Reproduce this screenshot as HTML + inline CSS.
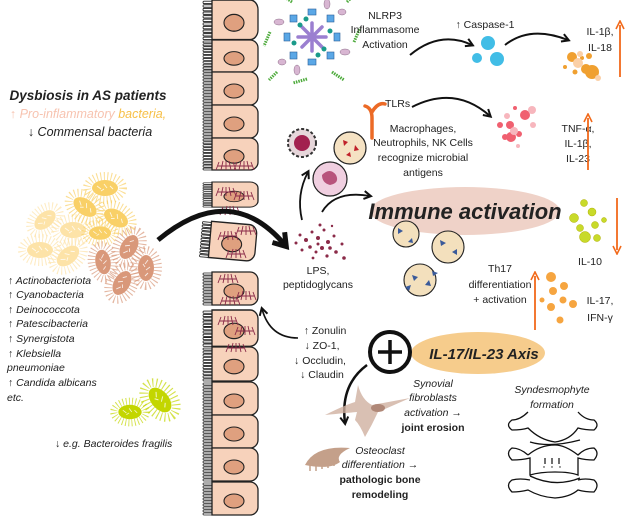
<!DOCTYPE html>
<html><head><meta charset="utf-8"><style>
html,body{margin:0;padding:0;background:#fff}
svg{display:block}
text{font-family:"Liberation Sans",sans-serif;fill:#222}
.t{font-size:10.5px}
.it{font-style:italic}
.b{font-weight:bold}
</style></head><body>
<svg width="635" height="517" viewBox="0 0 635 517" xmlns="http://www.w3.org/2000/svg">
<defs>
<marker id="ah" markerWidth="10" markerHeight="10" refX="7" refY="5" orient="auto" markerUnits="userSpaceOnUse"><path d="M1,1 L8,5 L1,9" fill="none" stroke="#111" stroke-width="2"/></marker>
<marker id="ahb" markerWidth="20" markerHeight="20" refX="12" refY="10" orient="auto" markerUnits="userSpaceOnUse"><path d="M2,2 L14,10 L2,18" fill="none" stroke="#111" stroke-width="5"/></marker>
<marker id="ao" markerWidth="10" markerHeight="10" refX="5" refY="5" orient="auto" markerUnits="userSpaceOnUse"><path d="M1,9 L5,1 L9,9" fill="none" stroke="#f26a1b" stroke-width="1.6" transform="rotate(90 5 5)"/></marker>
<g id="bac"><ellipse cx="0" cy="0" rx="18" ry="12" fill="none" stroke="currentColor" stroke-width="8" stroke-dasharray="1 2.5" opacity=".7"/><ellipse cx="0" cy="0" rx="13" ry="8" fill="currentColor"/><path d="M-8,-2 l4,3 M-1,-4 l3,4 M5,-2 l3,3 M-4,3 l3,-2" stroke="#fff" stroke-width=".9" opacity=".8"/></g>
<g id="cell"><path d="M212,0 h38 a8,8 0 0 1 8,8 v17 a8,8 0 0 1 -8,8 h-38 z" fill="#f7d2bb" stroke="#222" stroke-width="1.3"/><ellipse cx="234" cy="19" rx="10" ry="7" fill="#dfa07f" stroke="#222" stroke-width="1.1"/><path d="M212,1 h-8 a1,1 0 0 0 0,2 h8 v1 h-8 a1,1 0 0 0 0,2 h8 v1 h-8 a1,1 0 0 0 0,2 h8 v1 h-8 a1,1 0 0 0 0,2 h8 v1 h-8 a1,1 0 0 0 0,2 h8 v1 h-8 a1,1 0 0 0 0,2 h8 v1 h-8 a1,1 0 0 0 0,2 h8 v1 h-8 a1,1 0 0 0 0,2 h8 v1 h-8 a1,1 0 0 0 0,2 h8 v1 h-8 a1,1 0 0 0 0,2 h8 v1 h-8 a1,1 0 0 0 0,2 h8" fill="none" stroke="#222" stroke-width=".8"/></g>
<g id="lp"><path d="M-10,0 l3,-8 M-5,0 l2,-9 M0,0 l0,-9 M5,0 l-2,-9 M10,0 l-3,-8 M-8,-4 h16" stroke="#8a2a48" stroke-width=".9" fill="none"/></g>
</defs>

<!-- epithelium -->
<use href="#cell" transform="translate(0,0) scale(1,1.2)"/>
<use href="#cell" transform="translate(0,40) scale(1,0.97)"/>
<use href="#cell" transform="translate(0,72) scale(1,1)"/>
<use href="#cell" transform="translate(0,105) scale(1,1)"/>
<use href="#cell" transform="translate(0,138) scale(1,0.97)"/>
<use href="#cell" transform="translate(0,182) scale(1,0.76)"/>
<use href="#cell" transform="rotate(5 230 240) translate(-2,223) scale(1,1.1)"/>
<use href="#cell" transform="translate(0,272) scale(1,1)"/>
<use href="#cell" transform="translate(0,310) scale(1,1.1)"/>
<use href="#cell" transform="translate(0,347) scale(1,1.03)"/>
<use href="#cell" transform="translate(0,382) scale(1,1)"/>
<use href="#cell" transform="translate(0,415) scale(1,1)"/>
<use href="#cell" transform="translate(0,448) scale(1,1)"/>
<use href="#cell" transform="translate(0,482) scale(1,1)"/>
<!-- tight junction damage -->
<use href="#lp" x="226" y="170"/><use href="#lp" x="244" y="170"/>
<use href="#lp" x="226" y="196"/><use href="#lp" x="244" y="200"/><use href="#lp" x="230" y="215"/>
<use href="#lp" x="228" y="240"/><use href="#lp" x="246" y="235"/><use href="#lp" x="236" y="258"/>
<use href="#lp" x="228" y="283"/><use href="#lp" x="246" y="300"/><use href="#lp" x="230" y="305"/>
<use href="#lp" x="228" y="325"/><use href="#lp" x="245" y="335"/><use href="#lp" x="236" y="352"/>

<!-- left text -->
<text x="88" y="100" text-anchor="middle" class="b it" font-size="13.5">Dysbiosis in AS patients</text>
<text x="88" y="118" text-anchor="middle" class="it" font-size="12.5"><tspan fill="#f7c3b0">↑ Pro-inflammatory </tspan><tspan fill="#f7c048">bacteria,</tspan></text>
<text x="90" y="136" text-anchor="middle" class="it" font-size="12.5" fill="#c7d41e">↓ Commensal bacteria</text>

<!-- bacteria -->
<g color="#fde3a8"><use href="#bac" transform="translate(45,220) rotate(-40) scale(.95)"/><use href="#bac" transform="translate(73,230)"/><use href="#bac" transform="translate(40,250)"/><use href="#bac" transform="translate(68,256) rotate(-40)"/></g>
<g color="#f9d067"><use href="#bac" transform="translate(105,188)"/><use href="#bac" transform="translate(85,207) rotate(35)"/><use href="#bac" transform="translate(116,218) rotate(30)"/><use href="#bac" transform="translate(100,233) scale(.85)"/></g>
<g color="#d9987a"><use href="#bac" transform="translate(129,247) rotate(-60)"/><use href="#bac" transform="translate(103,262) rotate(80) scale(.95)"/><use href="#bac" transform="translate(146,268) rotate(90)"/><use href="#bac" transform="translate(122,283) rotate(-60)"/></g>
<g color="#c3d600"><use href="#bac" transform="translate(160,400) rotate(50) scale(1.1)"/><use href="#bac" transform="translate(130,412) scale(.9)"/></g>

<g class="t it" font-size="11">
<text x="8" y="284">↑ Actinobacteriota</text>
<text x="8" y="298">↑ Cyanobacteria</text>
<text x="8" y="313">↑ Deinococcota</text>
<text x="8" y="327">↑ Patescibacteria</text>
<text x="8" y="342">↑ Synergistota</text>
<text x="8" y="357">↑ Klebsiella</text>
<text x="7" y="371">pneumoniae</text>
<text x="8" y="386">↑ Candida albicans</text>
<text x="7" y="401">etc.</text>
<text x="55" y="447">↓ e.g. Bacteroides fragilis</text>
</g>

<!-- big arrow -->
<path d="M158,240 Q230,180 285,245" fill="none" stroke="#111" stroke-width="5" marker-end="url(#ahb)"/>

<!-- inflammasome -->
<g transform="translate(312,37)">
<g stroke="#9b7fd0" stroke-width="3.5" stroke-linecap="round"><path d="M-14,0 H14 M0,-14 V14 M-10,-10 L10,10 M-10,10 L10,-10"/></g>
<g fill="#5aa7e6" stroke="#2a5f9a" stroke-width=".6"><rect x="-4" y="-28" width="8" height="6"/><rect x="-4" y="22" width="8" height="6"/><rect x="-28" y="-4" width="6" height="8"/><rect x="22" y="-4" width="6" height="8"/><rect x="15" y="15" width="7" height="7"/><rect x="-22" y="-22" width="7" height="7"/><rect x="-22" y="15" width="7" height="7"/><rect x="15" y="-22" width="7" height="7"/></g>
<g fill="#1a9a8a"><circle cx="-18" cy="6" r="2.5"/><circle cx="18" cy="-6" r="2.5"/><circle cx="6" cy="18" r="2.5"/><circle cx="-6" cy="-18" r="2.5"/><circle cx="12" cy="12" r="2.5"/><circle cx="-12" cy="-12" r="2.5"/></g>
<g fill="#d8b6d2" stroke="#8b6a86" stroke-width=".5"><ellipse cx="-33" cy="-15" rx="5" ry="3"/><ellipse cx="33" cy="15" rx="5" ry="3"/><ellipse cx="-15" cy="33" rx="3" ry="5"/><ellipse cx="15" cy="-33" rx="3" ry="5"/><ellipse cx="30" cy="-25" rx="4" ry="3"/><ellipse cx="-30" cy="25" rx="4" ry="3"/></g>
<g stroke="#4caa3a" stroke-width="3" stroke-dasharray="1.5 1"><path d="M-42,-5 l-6,14 M42,5 l6,-14 M-20,-35 l-12,-8 M20,35 l12,8 M-5,42 l-14,4 M5,-42 l14,-4 M35,-35 l8,-8 M-35,35 l-8,8"/></g>
</g>
<g class="t" text-anchor="middle"><text x="385" y="19">NLRP3</text><text x="385" y="33">Inflammasome</text><text x="385" y="48">Activation</text></g>
<path d="M410,55 Q440,30 472,45" fill="none" stroke="#111" stroke-width="2" marker-end="url(#ah)"/>
<text x="485" y="28" text-anchor="middle" class="t">↑ Caspase-1</text>
<g fill="#41bde6"><circle cx="488" cy="43" r="7"/><circle cx="477" cy="58" r="5"/><circle cx="497" cy="59" r="7"/></g>
<path d="M505,45 Q530,25 568,40" fill="none" stroke="#111" stroke-width="2" marker-end="url(#ah)"/>
<g class="t" text-anchor="middle"><text x="600" y="35">IL-1β,</text><text x="600" y="51">IL-18</text></g>
<g fill="#f0a030"><circle cx="572" cy="57" r="5"/><circle cx="586" cy="69" r="5"/><circle cx="589" cy="56" r="3"/><circle cx="582" cy="58" r="2"/><circle cx="592" cy="72" r="7"/><circle cx="565" cy="67" r="2"/><circle cx="575" cy="72" r="2.5"/></g>
<g fill="#fbd0a7"><circle cx="578" cy="63" r="5"/><circle cx="598" cy="78" r="3"/><circle cx="580" cy="54" r="3"/></g>
<path d="M620,77 V25" stroke="#f26a1b" stroke-width="1.8" marker-end="url(#ao)"/>

<!-- TLRs -->
<path d="M372,138 V118 Q372,108 365,106 M372,112 Q378,102 385,104" fill="none" stroke="#ec6a26" stroke-width="3.5" stroke-linecap="round"/>
<text x="385" y="107" class="t">TLRs</text>
<path d="M412,107 Q455,85 490,116" fill="none" stroke="#111" stroke-width="2" marker-end="url(#ah)"/>
<g class="t" text-anchor="middle"><text x="423" y="132">Macrophages,</text><text x="423" y="146">Neutrophils, NK Cells</text><text x="423" y="161">recognize microbial</text><text x="423" y="176">antigens</text></g>
<g fill="#f06070"><circle cx="525" cy="115" r="5"/><circle cx="510" cy="125" r="4"/><circle cx="511" cy="137" r="5"/><circle cx="505" cy="137" r="3"/><circle cx="519" cy="134" r="3"/><circle cx="500" cy="125" r="3"/><circle cx="515" cy="108" r="2"/></g>
<g fill="#f7b6bd"><circle cx="532" cy="110" r="4"/><circle cx="533" cy="125" r="3"/><circle cx="507" cy="116" r="3"/><circle cx="518" cy="146" r="2"/><circle cx="514" cy="131" r="4"/></g>
<g class="t" text-anchor="middle"><text x="578" y="132">TNF-α,</text><text x="578" y="147">IL-1β,</text><text x="578" y="162">IL-23</text></g>
<path d="M588,170 V118" stroke="#f26a1b" stroke-width="1.8" marker-end="url(#ao)"/>

<!-- immune cells -->
<circle cx="302" cy="143" r="14" fill="#e6d6da" stroke="#333" stroke-width="2" stroke-dasharray="3 2"/><circle cx="302" cy="143" r="8" fill="#a2204f"/>
<circle cx="350" cy="148" r="16" fill="#f5e2c3" stroke="#222" stroke-width="1.2"/><g fill="#c0202a"><path d="M343,140 l5,2 l-4,4z M355,145 l4,5 l-5,1z M346,155 l4,-3 l1,5z"/></g>
<circle cx="330" cy="179" r="17" fill="#f0cfe0" stroke="#222" stroke-width="1.2"/><path d="M322,175 q8,-8 14,0 q4,8 -6,10 q-8,-2 -8,-10z" fill="#b8537c"/>
<path d="M302,220 Q296,195 308,172" fill="none" stroke="#111" stroke-width="1.8" marker-end="url(#ah)"/>
<path d="M322,212 Q335,190 370,196" fill="none" stroke="#111" stroke-width="1.8" marker-end="url(#ah)"/>

<!-- immune activation -->
<ellipse cx="465" cy="211" rx="95" ry="24" fill="#efd2c8"/>
<text x="465" y="219" text-anchor="middle" class="b it" font-size="22" fill="#111">Immune activation</text>
<g fill="#c8da2a" stroke="#b0b000" stroke-width=".5"><circle cx="584" cy="203" r="3.5"/><circle cx="574" cy="218" r="4.5"/><circle cx="592" cy="212" r="4"/><circle cx="595" cy="225" r="3.5"/><circle cx="580" cy="228" r="3.5"/><circle cx="585" cy="237" r="5.5"/><circle cx="597" cy="238" r="3.5"/><circle cx="604" cy="220" r="2.5"/></g>
<path d="M617,198 V250" stroke="#f26a1b" stroke-width="1.8" marker-end="url(#ao)"/>
<text x="590" y="265" text-anchor="middle" class="t">IL-10</text>

<!-- Th17 -->
<g fill="#f3e0bd" stroke="#222" stroke-width="1.1"><circle cx="406" cy="234" r="13"/><circle cx="448" cy="247" r="16"/><circle cx="420" cy="280" r="16"/></g>
<g fill="#3a5a9a"><path d="M398,228 l5,3 l-5,3z M412,238 l-4,4 l5,1z M440,240 l6,3 l-5,3z M452,252 l5,-3 l0,6z M412,275 l6,2 l-4,4z M425,285 l4,-5 l2,6z M432,271 l6,2 l-5,3z M405,287 l6,-2 l-2,6z"/></g>
<g class="t" text-anchor="middle"><text x="500" y="272">Th17</text><text x="500" y="288">differentiation</text><text x="500" y="303">+ activation</text></g>

<!-- LPS dots -->
<g fill="#8b2a48"><circle cx="300" cy="235" r="1.5"/><circle cx="306" cy="240" r="2"/><circle cx="312" cy="232" r="1.5"/><circle cx="318" cy="238" r="2"/><circle cx="324" cy="230" r="1.5"/><circle cx="328" cy="242" r="2"/><circle cx="310" cy="247" r="1.8"/><circle cx="316" cy="252" r="1.5"/><circle cx="322" cy="248" r="2"/><circle cx="334" cy="236" r="1.5"/><circle cx="336" cy="252" r="1.8"/><circle cx="302" cy="250" r="1.5"/><circle cx="327" cy="256" r="1.6"/><circle cx="342" cy="244" r="1.5"/><circle cx="320" cy="225" r="1.5"/><circle cx="332" cy="226" r="1.2"/><circle cx="344" cy="258" r="1.8"/><circle cx="296" cy="243" r="1.5"/><circle cx="313" cy="258" r="1.4"/><circle cx="330" cy="248" r="1.8"/><circle cx="318" cy="244" r="1.5"/></g>
<g class="t" text-anchor="middle"><text x="318" y="274">LPS,</text><text x="318" y="288">peptidoglycans</text></g>

<!-- IL-17 -->
<g fill="#f6a540"><circle cx="551" cy="277" r="5"/><circle cx="564" cy="286" r="4"/><circle cx="553" cy="291" r="4"/><circle cx="542" cy="300" r="2.5"/><circle cx="563" cy="300" r="3.5"/><circle cx="573" cy="304" r="4"/><circle cx="551" cy="307" r="4"/><circle cx="560" cy="320" r="3.5"/></g>
<g class="t" text-anchor="middle" font-size="11.5"><text x="600" y="304">IL-17,</text><text x="600" y="321">IFN-γ</text></g>
<path d="M535,330 V276" stroke="#f26a1b" stroke-width="1.8" marker-end="url(#ao)"/>

<!-- zonulin -->
<g class="t" text-anchor="middle"><text x="325" y="334">↑ Zonulin</text><text x="322" y="349">↓ ZO-1,</text><text x="320" y="364">↓ Occludin,</text><text x="322" y="378">↓ Claudin</text></g>
<path d="M298,338 Q270,338 262,309" fill="none" stroke="#111" stroke-width="1.6" marker-end="url(#ah)"/>

<!-- IL-17/IL-23 axis -->
<ellipse cx="478" cy="353" rx="67" ry="21" fill="#f6cc8c"/>
<circle cx="390" cy="352" r="20" fill="#fff" stroke="#111" stroke-width="4"/>
<path d="M378,352 H402 M390,340 V364" stroke="#111" stroke-width="3.5"/>
<text x="484" y="359" text-anchor="middle" class="b it" font-size="15" fill="#111">IL-17/IL-23 Axis</text>
<path d="M367,365 Q340,385 345,423" fill="none" stroke="#111" stroke-width="2.5" marker-end="url(#ah)"/>

<!-- fibroblast -->
<path d="M358,385 Q362,400 372,405 L410,398 L378,412 Q372,425 365,437 Q360,425 355,420 L357,412 Q345,413 325,415 Q345,405 355,402 Z" fill="#cfb0a0" opacity=".8"/>
<ellipse cx="378" cy="408" rx="7" ry="4" fill="#b08878"/>
<g class="t it" text-anchor="middle"><text x="433" y="387">Synovial</text><text x="433" y="401">fibroblasts</text><text x="433" y="416">activation →</text></g>
<text x="433" y="431" text-anchor="middle" class="t b">joint erosion</text>

<!-- osteoclast -->
<path d="M305,465 Q315,445 350,448 Q335,455 340,462 Q330,470 305,465 Z" fill="#c4a08a"/>
<g stroke="#c4a08a" stroke-width="1.5"><path d="M310,465 v6 M316,464 v7 M322,463 v6 M328,462 v6 M334,461 v5"/></g>
<g class="t it" text-anchor="middle"><text x="380" y="454">Osteoclast</text><text x="380" y="468">differentiation →</text></g>
<g class="t b" text-anchor="middle"><text x="380" y="483">pathologic bone</text><text x="380" y="498">remodeling</text></g>

<!-- syndesmophyte -->
<g class="t it" text-anchor="middle"><text x="552" y="393">Syndesmophyte</text><text x="552" y="408">formation</text></g>
<g fill="#fff" stroke="#111" stroke-width="1.3">
<path d="M528,412 Q520,420 512,420 Q505,425 512,430 Q522,430 528,428 Q540,440 555,442 Q570,440 578,428 Q585,430 594,430 Q600,425 594,420 Q585,420 578,412"/>
<path d="M528,455 Q520,448 512,448 Q505,453 512,460 Q522,460 530,458 L530,475 Q540,472 555,472 Q570,472 578,475 L578,458 Q585,460 594,460 Q600,453 594,448 Q585,448 578,455 Q565,445 555,445 Q540,445 528,455"/>
<path d="M530,480 Q520,478 512,480 Q505,485 512,492 Q520,492 528,490 Q540,497 555,498 Q570,497 578,490 Q585,492 594,492 Q600,485 594,480 Q585,478 578,480"/>
<path d="M530,442 Q550,448 580,440 M530,476 Q555,488 580,478" fill="none"/>
</g>
<g stroke="#111" stroke-width="1.2"><path d="M545,458 v6 M552,458 v6 M559,458 v6"/></g>
<g fill="#111"><circle cx="544" cy="467" r=".7"/><circle cx="552" cy="467" r=".7"/><circle cx="560" cy="467" r=".7"/></g>
</svg>
</body></html>
